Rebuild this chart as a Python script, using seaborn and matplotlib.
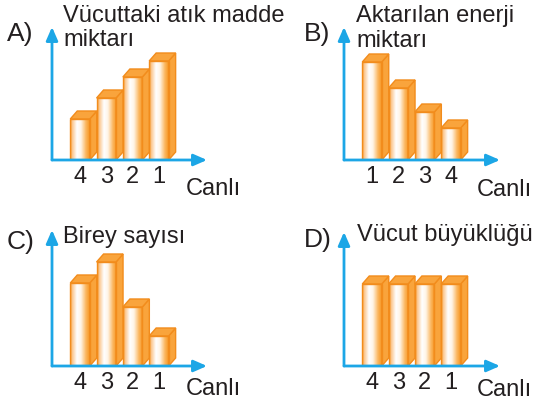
import numpy as np
import seaborn as sns
import matplotlib.pyplot as plt
from matplotlib.colors import LinearSegmentedColormap
from matplotlib.patches import Polygon

sns.set_style("white")
plt.rcParams['font.family'] = ['Liberation Sans', 'DejaVu Sans']

# panel data (bar heights, arbitrary units)
labels_a = ["4", "3", "2", "1"]
values_a = [41, 62, 83, 99]
labels_b = ["1", "2", "3", "4"]
values_b = [98, 72, 48, 32]
labels_c = ["4", "3", "2", "1"]
values_c = [83, 104, 59, 30]
labels_d = ["4", "3", "2", "1"]
values_d = [82, 82, 82, 82]

W, H = 534, 403
blue = "#1CA6E6"
orange = "#F7941D"
side = "#F9A43C"
edge = "#F28C1C"
txt = "#231F20"
grad = LinearSegmentedColormap.from_list(
    "bar", [(0, orange), (0.1, "#FBC58A"), (0.35, "#FFFFFF"), (0.55, "#FFF4E6"),
            (0.8, "#FBB863"), (1, orange)])

fig = plt.figure(figsize=(W / 100, H / 100), dpi=100)


def ftext(x, y, s, size=17):
    fig.text(x / W, 1 - y / H, s, fontsize=size, color=txt, va="baseline", ha="left")


def panel(left, base, top, right, labels, values):
    ax = fig.add_axes([left / W, 1 - base / H, (right - left) / W, (base - top) / H])
    sns.barplot(x=labels, y=values, order=labels, ax=ax, color=orange,
                width=0.74, saturation=1, edgecolor=edge, linewidth=1)
    step = 26.3
    xw = (right - left) / step
    x0 = -28 / step
    dx, dy = 7 / step, 8  # depth offset of the 3d look
    for p in list(ax.patches):
        x, w, h = p.get_x(), p.get_width(), p.get_height()
        p.set_facecolor("none")
        p.set_zorder(3)
        im = ax.imshow(np.linspace(0, 1, 64)[None, :], cmap=grad, aspect="auto",
                       extent=(x, x + w, 0, h), zorder=2)
        im.set_clip_path(p)
        ax.add_patch(Polygon([(x + w, 0), (x + w + dx, dy), (x + w + dx, h + dy), (x + w, h)],
                             closed=True, facecolor=side, edgecolor=edge, lw=1, zorder=2.5))
        ax.add_patch(Polygon([(x, h), (x + dx, h + dy), (x + w + dx, h + dy), (x + w, h)],
                             closed=True, facecolor=side, edgecolor=edge, lw=1, zorder=2.5))
    ax.set_xlim(x0, x0 + xw)
    ax.set_ylim(0, base - top)
    sns.despine(ax=ax, left=True, bottom=True)
    ax.set_yticks([])
    ax.set_xlabel("")
    ax.set_ylabel("")
    ax.tick_params(axis="x", length=0, labelsize=17, pad=4, colors=txt)
    ax.patch.set_alpha(0)
    arrow = dict(arrowstyle="-|>,head_length=0.8,head_width=0.35", color=blue, lw=2,
                 shrinkA=0, shrinkB=0)
    ax.annotate("", xy=(0, 1), xytext=(0, 0), xycoords="axes fraction",
                arrowprops=arrow, annotation_clip=False)
    ax.annotate("", xy=(1, 0), xytext=(0, 0), xycoords="axes fraction",
                arrowprops=arrow, annotation_clip=False)
    return ax


panel(52, 160, 27, 207, labels_a, values_a)
panel(344, 160, 27, 500, labels_b, values_b)
panel(52, 366, 230, 207, labels_c, values_c)
panel(344, 366, 232, 500, labels_d, values_d)

ftext(7, 41, "A)", 19)
ftext(63, 22, "Vücuttaki atık madde")
ftext(63, 46, "miktarı")
ftext(186, 195, "Canlı")

ftext(304, 41, "B)", 19)
ftext(356, 22, "Aktarılan enerji")
ftext(356, 47, "miktarı")
ftext(477, 196, "Canlı")

ftext(7, 249, "C)", 19)
ftext(63, 243, "Birey sayısı")
ftext(186, 395, "Canlı")

ftext(304, 247, "D)", 19)
ftext(357, 241, "Vücut büyüklüğü")
ftext(477, 396, "Canlı")

fig.savefig("out.png", dpi=100)
